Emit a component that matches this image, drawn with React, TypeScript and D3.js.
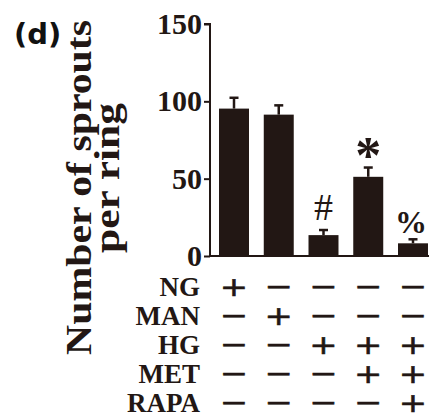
import React, { useEffect, useRef } from "react";
import * as d3 from "d3";

const groups = ["G1", "G2", "G3", "G4", "G5"];
const means = [95.3, 91.4, 13.5, 51.2, 8.2];
const errors = [7, 6, 3.3, 6, 2.6];
const marks = ["", "", "#", "*", "%"];
const yTicks = [0, 50, 100, 150];
const rowLabels = ["NG", "MAN", "HG", "MET", "RAPA"];
const treatments = [
  ["+", "−", "−", "−", "−"],
  ["−", "+", "−", "−", "−"],
  ["−", "−", "+", "+", "+"],
  ["−", "−", "−", "+", "+"],
  ["−", "−", "−", "−", "+"],
];

const W = 429;
const H = 417;
const INK = "#221714";
const SERIF = "'Liberation Serif', 'Times New Roman', Times, serif";

const App = () => {
  const ref = useRef<SVGSVGElement>(null);

  useEffect(() => {
    const svg = d3.select(ref.current);
    svg.selectAll("*").remove();

    const axisX = 210;
    const x = d3
      .scaleBand()
      .domain(groups)
      .range([212.3, 434.7])
      .paddingInner(0.33)
      .paddingOuter(0.15);
    const y = d3.scaleLinear().domain([0, 150]).range([256, 24]);

    // panel letter
    svg
      .append("text")
      .attr("x", 14)
      .attr("y", 44)
      .attr("font-family", "'DejaVu Sans', sans-serif")
      .attr("font-weight", "bold")
      .attr("font-size", 29)
      .attr("fill", "#111")
      .text("(d)");

    // y axis title
    const title = [
      { t: "Number of sprouts", bx: 91, cy: 187.5, len: 335 },
      { t: "per ring", bx: 119, cy: 178, len: 150 },
    ];
    svg
      .append("g")
      .selectAll("text")
      .data(title)
      .join("text")
      .attr("transform", (d) => `translate(${d.bx},${d.cy}) rotate(-90)`)
      .attr("text-anchor", "middle")
      .style("font-family", SERIF)
      .attr("font-weight", "bold")
      .attr("font-size", 36)
      .attr("fill", INK)
      .attr("textLength", (d) => d.len)
      .attr("lengthAdjust", "spacingAndGlyphs")
      .text((d) => d.t);

    // bars
    svg
      .append("g")
      .attr("fill", INK)
      .selectAll("rect")
      .data(groups)
      .join("rect")
      .attr("x", (d) => x(d)!)
      .attr("y", (d, i) => y(means[i]))
      .attr("width", x.bandwidth())
      .attr("height", (d, i) => y(0) - y(means[i]));

    // error bars (upper only)
    const eb = svg
      .append("g")
      .attr("stroke", INK)
      .attr("stroke-width", 2.5);
    groups.forEach((g, i) => {
      const cx = x(g)! + x.bandwidth() / 2;
      eb.append("line")
        .attr("x1", cx)
        .attr("x2", cx)
        .attr("y1", y(means[i]))
        .attr("y2", y(means[i] + errors[i]));
      eb.append("line")
        .attr("x1", cx - 4.5)
        .attr("x2", cx + 4.5)
        .attr("y1", y(means[i] + errors[i]))
        .attr("y2", y(means[i] + errors[i]));
    });

    // significance marks
    const markStyle = [
      {},
      {},
      { size: 38, weight: "normal", dy: -10, dx: 0 },
      { size: 52, weight: "bold", dy: 5, dx: 0 },
      { size: 32, weight: "bold", dy: -6, dx: -2 },
    ] as any[];
    groups.forEach((g, i) => {
      if (!marks[i]) return;
      const s = markStyle[i];
      svg
        .append("text")
        .attr("x", x(g)! + x.bandwidth() / 2 + s.dx)
        .attr("y", y(means[i] + errors[i]) + s.dy)
        .attr("text-anchor", "middle")
        .style("font-family", SERIF)
        .attr("font-weight", s.weight)
        .attr("font-size", s.size)
        .attr("fill", INK)
        .text(marks[i]);
    });

    // axes
    const yAxis = svg
      .append("g")
      .attr("transform", `translate(${axisX},0)`)
      .call(d3.axisLeft(y).tickValues(yTicks).tickSize(6).tickPadding(2));
    yAxis
      .select(".domain")
      .attr("stroke", INK)
      .attr("stroke-width", 2)
      .attr("d", `M-6,${y(150)}H0V${y(0)}`);
    yAxis.selectAll(".tick line").attr("stroke", INK).attr("stroke-width", 2);
    yAxis
      .selectAll(".tick text")
      .style("font-family", SERIF)
      .attr("font-weight", "bold")
      .attr("font-size", 30)
      .attr("fill", INK);

    svg
      .append("line")
      .attr("x1", axisX)
      .attr("x2", W)
      .attr("y1", y(0))
      .attr("y2", y(0))
      .attr("stroke", INK)
      .attr("stroke-width", 2);

    // treatment table
    const rows = d3.scaleBand().domain(rowLabels).range([272, 417]).padding(0);
    const rowG = svg
      .append("g")
      .selectAll("g")
      .data(rowLabels)
      .join("g")
      .attr("transform", (d) => `translate(0,${rows(d)! + rows.bandwidth() / 2})`);
    rowG
      .append("text")
      .attr("x", 200)
      .attr("y", 9)
      .attr("text-anchor", "end")
      .style("font-family", SERIF)
      .attr("font-weight", "bold")
      .attr("font-size", 27)
      .attr("fill", INK)
      .text((d) => d);
    rowG.each(function (d, r) {
      d3.select(this)
        .selectAll("text.sym")
        .data(treatments[r])
        .join("text")
        .attr("class", "sym")
        .attr(
          "transform",
          (s, i) => `translate(${x(groups[i])! + x.bandwidth() / 2},9) scale(1.3,1.05)`
        )
        .attr("text-anchor", "middle")
        .attr("font-family", "'DejaVu Sans', sans-serif")
        .attr("font-size", 26)
        .attr("fill", INK)
        .attr("stroke", INK)
        .attr("stroke-width", 0.5)
        .text((s) => s);
    });
  }, []);

  return (
    <svg
      ref={ref}
      width={W}
      height={H}
      style={{ display: "block", position: "absolute", left: 0, top: 0 }}
    />
  );
};

export default App;
